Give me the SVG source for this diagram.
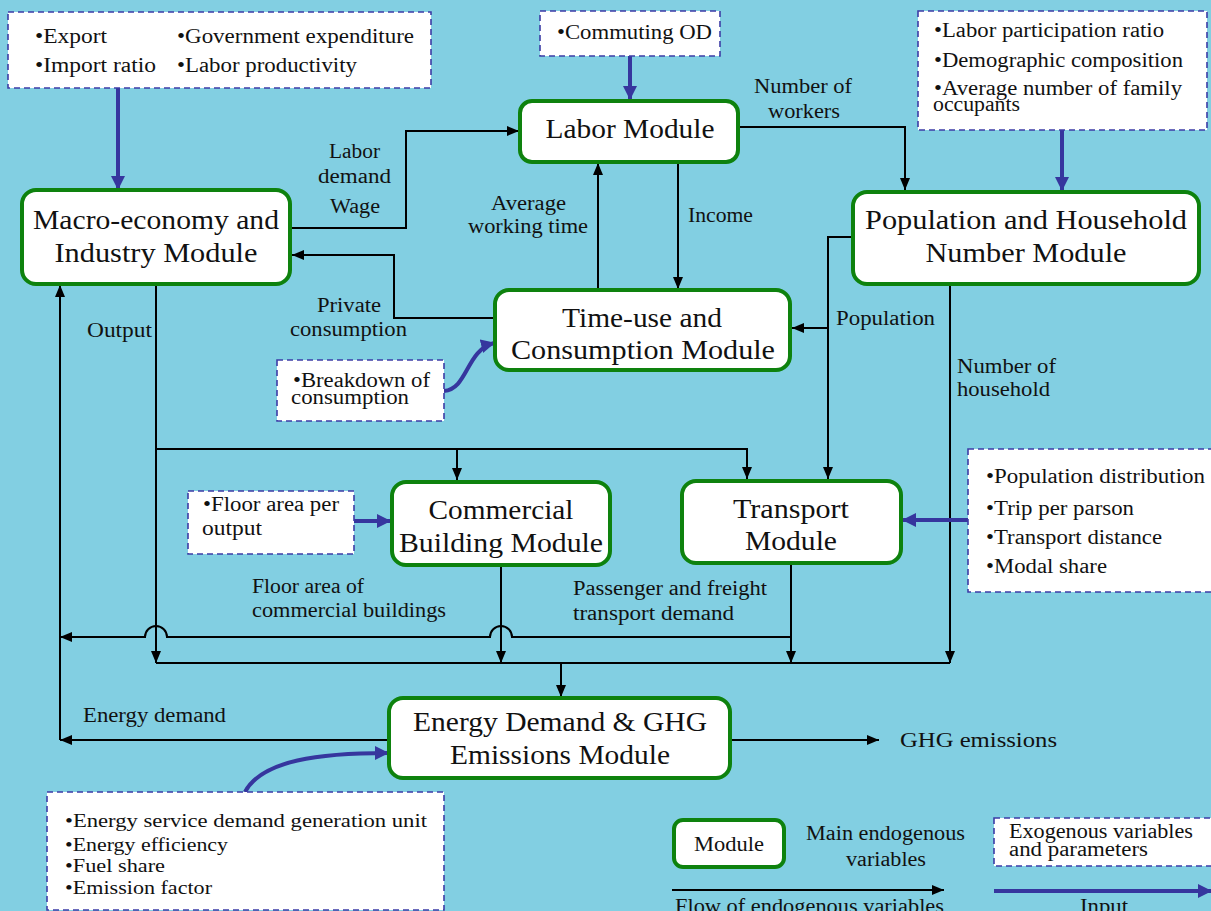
<svg xmlns="http://www.w3.org/2000/svg" width="1211" height="911" viewBox="0 0 1211 911">
<defs>
<style>
.mod{fill:#fff;stroke:#0E820E;stroke-width:4}
.exo{fill:#fff;stroke:#3C3CA6;stroke-width:1.6;stroke-dasharray:6 4}
.ln{fill:none;stroke:#000;stroke-width:2}
.in{fill:none;stroke:#36369E;stroke-width:4}
text{font-family:"Liberation Serif","Times New Roman",serif;fill:#111}
.m{font-size:27px;text-anchor:middle}
.l{font-size:20px}
.x{font-size:20px}
.s{font-size:19.5px}
</style>
<marker id="ah" viewBox="0 0 12 10" refX="12" refY="5" markerWidth="12" markerHeight="10" markerUnits="userSpaceOnUse" orient="auto"><path d="M0,0 L12,5 L0,10 z" fill="#000"/></marker>
<marker id="bh" viewBox="0 0 14 14" refX="13" refY="7" markerWidth="14" markerHeight="14" markerUnits="userSpaceOnUse" orient="auto"><path d="M0,0 L14,7 L0,14 z" fill="#36369E"/></marker>
</defs>
<rect x="0" y="0" width="1211" height="911" fill="#82CFE2"/>

<g id="connectors">
<path class="ln" d="M290,228 H406 V131 H519" marker-end="url(#ah)"/>
<path class="ln" d="M495,318 H394 V255 H292" marker-end="url(#ah)"/>
<path class="ln" d="M678,163 V289" marker-end="url(#ah)"/>
<path class="ln" d="M598,289 V163" marker-end="url(#ah)"/>
<path class="ln" d="M738,127 H905 V190" marker-end="url(#ah)"/>
<path class="ln" d="M853,237 H828 V479" marker-end="url(#ah)"/>
<path class="ln" d="M828,328 H792" marker-end="url(#ah)"/>
<path class="ln" d="M950,285 V663" marker-end="url(#ah)"/>
<path class="ln" d="M156,285 V663" marker-end="url(#ah)"/>
<path class="ln" d="M156,449 H747 V479" marker-end="url(#ah)"/>
<path class="ln" d="M457,449 V480" marker-end="url(#ah)"/>
<path class="ln" d="M501,566 V663" marker-end="url(#ah)"/>
<path class="ln" d="M791,564 V663" marker-end="url(#ah)"/>
<path class="ln" d="M791,637 H512 A11,11 0 0 0 490,637 H167 A11,11 0 0 0 145,637 H60" marker-end="url(#ah)"/>
<path class="ln" d="M156,663 H950"/>
<path class="ln" d="M561,663 V697" marker-end="url(#ah)"/>
<path class="ln" d="M388,740 H60" marker-end="url(#ah)"/>
<path class="ln" d="M60,740 V285" marker-end="url(#ah)"/>
<path class="ln" d="M731,740 H879" marker-end="url(#ah)"/>
<path class="in" d="M118,88 V189" marker-end="url(#bh)"/>
<path class="in" d="M630,56 V99" marker-end="url(#bh)"/>
<path class="in" d="M1062,130 V190" marker-end="url(#bh)"/>
<path class="in" d="M444,391 C468,389 466,350 494,343" marker-end="url(#bh)"/>
<path class="in" d="M354,521 H390" marker-end="url(#bh)"/>
<path class="in" d="M968,520 H903" marker-end="url(#bh)"/>
<path class="in" d="M245,792 C262,760 320,753 388,753" marker-end="url(#bh)"/>
</g>

<g id="labels">
<text class="l" x="754" y="93" textLength="98" lengthAdjust="spacingAndGlyphs">Number of</text>
<text class="l" x="768" y="118" textLength="72" lengthAdjust="spacingAndGlyphs">workers</text>
<text class="l" x="329" y="158" textLength="51" lengthAdjust="spacingAndGlyphs">Labor</text>
<text class="l" x="318" y="183" textLength="73" lengthAdjust="spacingAndGlyphs">demand</text>
<text class="l" x="330" y="213" textLength="50" lengthAdjust="spacingAndGlyphs">Wage</text>
<text class="l" x="491" y="210" textLength="75" lengthAdjust="spacingAndGlyphs">Average</text>
<text class="l" x="468" y="233" textLength="120" lengthAdjust="spacingAndGlyphs">working time</text>
<text class="l" x="688" y="222" textLength="65" lengthAdjust="spacingAndGlyphs">Income</text>
<text class="l" x="317" y="312" textLength="64" lengthAdjust="spacingAndGlyphs">Private</text>
<text class="l" x="290" y="336" textLength="117" lengthAdjust="spacingAndGlyphs">consumption</text>
<text class="l" x="87" y="337" textLength="65" lengthAdjust="spacingAndGlyphs">Output</text>
<text class="l" x="836" y="325" textLength="99" lengthAdjust="spacingAndGlyphs">Population</text>
<text class="l" x="957" y="373" textLength="99" lengthAdjust="spacingAndGlyphs">Number of</text>
<text class="l" x="957" y="396" textLength="93" lengthAdjust="spacingAndGlyphs">household</text>
<text class="l" x="252" y="593" textLength="112" lengthAdjust="spacingAndGlyphs">Floor area of</text>
<text class="l" x="252" y="617" textLength="194" lengthAdjust="spacingAndGlyphs">commercial buildings</text>
<text class="l" x="573" y="595" textLength="194" lengthAdjust="spacingAndGlyphs">Passenger and freight</text>
<text class="l" x="573" y="620" textLength="161" lengthAdjust="spacingAndGlyphs">transport demand</text>
<text class="l" x="83" y="722" textLength="143" lengthAdjust="spacingAndGlyphs">Energy demand</text>
<text class="l" x="900" y="747" textLength="157" lengthAdjust="spacingAndGlyphs">GHG emissions</text>
</g>

<g id="macro">
<rect class="mod" x="22" y="190" width="268" height="94" rx="14"/>
<text class="m" x="156" y="229" textLength="246" lengthAdjust="spacingAndGlyphs">Macro-economy and</text>
<text class="m" x="156" y="262" textLength="203" lengthAdjust="spacingAndGlyphs">Industry Module</text>
</g>
<g id="labor">
<rect class="mod" x="520" y="101" width="218" height="61" rx="12"/>
<text class="m" x="630" y="138" textLength="169" lengthAdjust="spacingAndGlyphs">Labor Module</text>
</g>
<g id="population">
<rect class="mod" x="853" y="192" width="346" height="92" rx="14"/>
<text class="m" x="1026" y="229" textLength="322" lengthAdjust="spacingAndGlyphs">Population and Household</text>
<text class="m" x="1026" y="262" textLength="201" lengthAdjust="spacingAndGlyphs">Number Module</text>
</g>
<g id="timeuse">
<rect class="mod" x="495" y="290" width="295" height="80" rx="14"/>
<text class="m" x="642" y="327" textLength="160" lengthAdjust="spacingAndGlyphs">Time-use and</text>
<text class="m" x="643" y="359" textLength="264" lengthAdjust="spacingAndGlyphs">Consumption Module</text>
</g>
<g id="commercial">
<rect class="mod" x="392" y="482" width="218" height="83" rx="14"/>
<text class="m" x="501" y="519" textLength="145" lengthAdjust="spacingAndGlyphs">Commercial</text>
<text class="m" x="501" y="552" textLength="204" lengthAdjust="spacingAndGlyphs">Building Module</text>
</g>
<g id="transport">
<rect class="mod" x="682" y="481" width="219" height="82" rx="14"/>
<text class="m" x="791" y="518" textLength="116" lengthAdjust="spacingAndGlyphs">Transport</text>
<text class="m" x="791" y="550" textLength="92" lengthAdjust="spacingAndGlyphs">Module</text>
</g>
<g id="energy">
<rect class="mod" x="389" y="698" width="341" height="80" rx="14"/>
<text class="m" x="560" y="731" textLength="294" lengthAdjust="spacingAndGlyphs">Energy Demand &amp; GHG</text>
<text class="m" x="560" y="764" textLength="220" lengthAdjust="spacingAndGlyphs">Emissions Module</text>
</g>

<g id="exo-macro">
<rect class="exo" x="8" y="12" width="423" height="76"/>
<text class="x" x="35" y="43" textLength="72" lengthAdjust="spacingAndGlyphs">•Export</text>
<text class="x" x="35" y="72" textLength="121" lengthAdjust="spacingAndGlyphs">•Import ratio</text>
<text class="x" x="177" y="43" textLength="237" lengthAdjust="spacingAndGlyphs">•Government expenditure</text>
<text class="x" x="177" y="72" textLength="180" lengthAdjust="spacingAndGlyphs">•Labor productivity</text>
</g>
<g id="exo-commuting">
<rect class="exo" x="540" y="11" width="180" height="45"/>
<text class="x" x="557" y="39" textLength="155" lengthAdjust="spacingAndGlyphs">•Commuting OD</text>
</g>
<g id="exo-population">
<rect class="exo" x="918" y="11" width="289" height="119"/>
<text class="x" x="934" y="37" textLength="230" lengthAdjust="spacingAndGlyphs">•Labor participation ratio</text>
<text class="x" x="934" y="67" textLength="249" lengthAdjust="spacingAndGlyphs">•Demographic composition</text>
<text class="x" x="934" y="95" textLength="248" lengthAdjust="spacingAndGlyphs">•Average number of family</text>
<text class="x" x="933" y="111" textLength="87" lengthAdjust="spacingAndGlyphs">occupants</text>
</g>
<g id="exo-consumption">
<rect class="exo" x="277" y="360" width="167" height="61"/>
<text class="x" x="293" y="387" textLength="137" lengthAdjust="spacingAndGlyphs">•Breakdown of</text>
<text class="x" x="291" y="404" textLength="118" lengthAdjust="spacingAndGlyphs">consumption</text>
</g>
<g id="exo-floor">
<rect class="exo" x="188" y="491" width="166" height="63"/>
<text class="x" x="203" y="511" textLength="136" lengthAdjust="spacingAndGlyphs">•Floor area per</text>
<text class="x" x="202" y="535" textLength="60" lengthAdjust="spacingAndGlyphs">output</text>
</g>
<g id="exo-transport">
<rect class="exo" x="968" y="449" width="250" height="143"/>
<text class="x" x="986" y="483" textLength="219" lengthAdjust="spacingAndGlyphs">•Population distribution</text>
<text class="x" x="986" y="515" textLength="148" lengthAdjust="spacingAndGlyphs">•Trip per parson</text>
<text class="x" x="986" y="544" textLength="176" lengthAdjust="spacingAndGlyphs">•Transport distance</text>
<text class="x" x="986" y="573" textLength="121" lengthAdjust="spacingAndGlyphs">•Modal share</text>
</g>
<g id="exo-energy">
<rect class="exo" x="47" y="792" width="397" height="118"/>
<text class="s" x="65" y="827" textLength="362" lengthAdjust="spacingAndGlyphs">•Energy service demand generation unit</text>
<text class="s" x="65" y="851" textLength="163" lengthAdjust="spacingAndGlyphs">•Energy efficiency</text>
<text class="s" x="65" y="872" textLength="100" lengthAdjust="spacingAndGlyphs">•Fuel share</text>
<text class="s" x="65" y="894" textLength="147" lengthAdjust="spacingAndGlyphs">•Emission factor</text>
</g>

<g id="legend">
<rect class="mod" x="674" y="820" width="110" height="47" rx="9"/>
<text x="729" y="851" font-size="22" text-anchor="middle" textLength="70" lengthAdjust="spacingAndGlyphs">Module</text>
<text class="l" x="806" y="840" textLength="159" lengthAdjust="spacingAndGlyphs">Main endogenous</text>
<text class="l" x="846" y="866" textLength="80" lengthAdjust="spacingAndGlyphs">variables</text>
<rect class="exo" x="994" y="818" width="225" height="48"/>
<text class="l" x="1009" y="838" textLength="184" lengthAdjust="spacingAndGlyphs">Exogenous variables</text>
<text class="l" x="1009" y="856" textLength="139" lengthAdjust="spacingAndGlyphs">and parameters</text>
<path class="ln" d="M672,890 H944" marker-end="url(#ah)"/>
<path class="in" d="M994,891 H1211" marker-end="url(#bh)"/>
<text class="l" x="675" y="913" textLength="269" lengthAdjust="spacingAndGlyphs">Flow of endogenous variables</text>
<text class="l" x="1080" y="913" textLength="48" lengthAdjust="spacingAndGlyphs">Input</text>
</g>
</svg>
